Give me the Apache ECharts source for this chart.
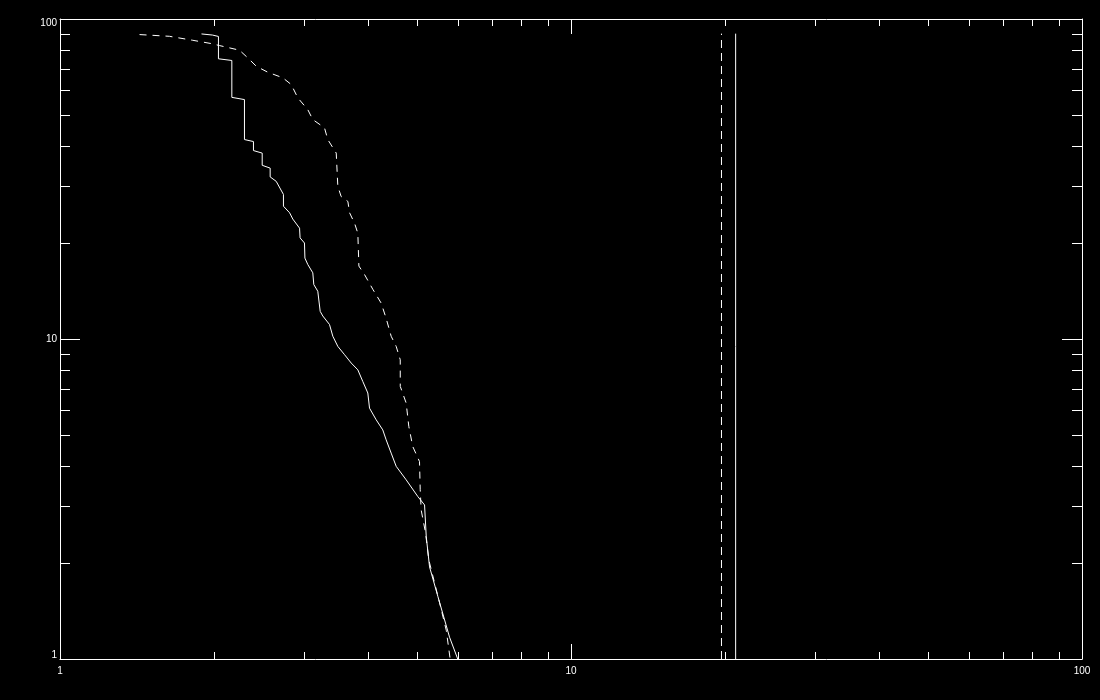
<!DOCTYPE html>
<html>
<head>
<meta charset="utf-8">
<script src="https://cdn.jsdelivr.net/npm/echarts@6/dist/echarts.min.js"></script>
<style>
html,body{margin:0;padding:0;background:#000;}
#chart{width:1100px;height:700px;}
</style>
</head>
<body>
<div id="chart"></div>
<script>
// Solid curve (x, N)
const solidX = [1.892,1.987,2.042,2.042,2.169,2.169,2.296,2.296,2.391,2.391,2.487,2.487,2.578,2.578,2.649,2.737,2.737,2.814,2.855,2.943,2.950,3.009,3.015,3.054,3.124,3.138,3.195,3.230,3.268,3.368,3.419,3.497,3.605,3.715,3.827,3.913,4.003,4.034,4.157,4.282,4.348,4.447,4.549,4.758,5.014,5.169,5.209,5.287,5.488,5.785,6.003];
const solidY = [89.8,89.1,88.2,75.1,74.2,56.9,56.0,42.0,41.4,38.8,38.1,34.9,34.2,32.1,31.1,28.3,26.0,24.8,23.7,22.2,20.7,19.95,17.9,17.1,16.1,14.8,14.1,12.2,11.8,11.1,10.2,9.48,8.93,8.41,8.01,7.37,6.78,6.08,5.59,5.20,4.84,4.40,4.00,3.63,3.22,3.03,2.41,1.94,1.57,1.17,1.0];
// Dashed curve (x, N)
const dashedX = [1.431,1.637,1.819,1.976,2.052,2.245,2.331,2.421,2.550,2.729,2.835,2.920,3.054,3.124,3.293,3.342,3.472,3.497,3.549,3.659,3.687,3.771,3.827,3.845,3.944,4.094,4.251,4.348,4.447,4.549,4.633,4.633,4.758,4.815,4.902,5.053,5.069,5.091,5.192,5.269,5.530,5.700,5.801];
const dashedY = [89.4,88.3,85.8,83.8,82.6,79.9,75.6,71.2,68.2,65.5,62.4,56.7,52.1,48.5,45.7,42.0,38.1,30.0,27.9,26.9,24.8,23.0,21.4,16.9,15.9,14.3,12.95,11.6,10.2,9.48,8.61,7.11,6.31,5.33,4.61,4.14,3.38,2.92,2.48,2.04,1.50,1.23,1.0];
// Vertical reference lines
const vlineDashedX = 19.7;
const vlineSolidX = 21.0;
const vlineY = [1, 90];
// Axis ranges and minor ticks
const axisMin = 1, axisMax = 100;
const xMinorTicks = [2,3,4,5,6,7,8,9,20,30,40,50,60,70,80,90];
const yMinorTicks = [2,3,4,5,6,7,8,9,20,30,40,50,60,70,80,90];

const white = '#ffffff';
const zip = (a, b) => a.map((v, i) => [v, b[i]]);

const chart = echarts.init(document.getElementById('chart'), null, {renderer: 'canvas'});

function axisBase(extra) {
  return Object.assign({
    type: 'log', logBase: 10, min: axisMin, max: axisMax,
    axisLine: {show: true, lineStyle: {color: white, width: 1}},
    splitLine: {show: false},
    minorTick: {show: false},
  }, extra);
}

const labelStyle = {color: white, fontFamily: 'Liberation Sans', fontSize: 10};

const option = {
  backgroundColor: '#000000',
  animation: false,
  grid: {left: 60, top: 19, width: 1022, height: 640, containLabel: false},
  xAxis: [
    axisBase({position: 'bottom', axisTick: {show: true, inside: true, length: 15, lineStyle: {color: white}},
      axisLabel: Object.assign({show: true, margin: 7}, labelStyle)}),
    axisBase({position: 'top', axisTick: {show: true, inside: true, length: 15, lineStyle: {color: white}},
      axisLabel: {show: false}})
  ],
  yAxis: [
    axisBase({position: 'left', axisTick: {show: true, inside: true, length: 20, lineStyle: {color: white}},
      axisLabel: Object.assign({
        show: true, margin: 3,
        formatter: function (v) {
          if (v >= 99) return '{t|' + v + '}';
          if (v <= 1.01) return '{b|' + v + '}';
          return '{m|' + v + '}';
        },
        rich: {
          t: {color: white, fontFamily: 'Liberation Sans', fontSize: 10, padding: [8, 0, 0, 0]},
          b: {color: white, fontFamily: 'Liberation Sans', fontSize: 10, padding: [0, 0, 7, 0]},
          m: {color: white, fontFamily: 'Liberation Sans', fontSize: 10}
        }
      }, labelStyle)}),
    axisBase({position: 'right', axisTick: {show: true, inside: true, length: 20, lineStyle: {color: white}},
      axisLabel: {show: false}})
  ],
  series: [
    {
      type: 'line', xAxisIndex: 0, yAxisIndex: 0, data: zip(solidX, solidY),
      showSymbol: false, symbol: 'none', lineStyle: {color: white, width: 1, type: 'solid'}
    },
    {
      type: 'line', xAxisIndex: 0, yAxisIndex: 0, data: zip(dashedX, dashedY),
      showSymbol: false, symbol: 'none', lineStyle: {color: white, width: 1, type: [7, 6]}
    },
    {
      type: 'line', xAxisIndex: 0, yAxisIndex: 0, data: vlineY.map(y => [vlineDashedX, y]),
      showSymbol: false, symbol: 'none', lineStyle: {color: white, width: 1, type: [8, 5]}
    },
    {
      type: 'line', xAxisIndex: 0, yAxisIndex: 0, data: vlineY.map(y => [vlineSolidX, y]),
      showSymbol: false, symbol: 'none', lineStyle: {color: white, width: 1, type: 'solid'}
    },
    {
      type: 'custom', xAxisIndex: 0, yAxisIndex: 0, silent: true,
      data: xMinorTicks.map(v => [v, axisMin]),
      renderItem: function (params, api) {
        const cs = params.coordSys;
        const p = api.coord([api.value(0), axisMin]);
        const x = Math.round(p[0]) + 0.5;
        const b = cs.y + cs.height, t = cs.y;
        const st = {stroke: white, lineWidth: 1};
        return {type: 'group', children: [
          {type: 'line', shape: {x1: x, y1: b, x2: x, y2: b - 7}, style: st},
          {type: 'line', shape: {x1: x, y1: t, x2: x, y2: t + 7}, style: st}
        ]};
      }
    },
    {
      type: 'custom', xAxisIndex: 0, yAxisIndex: 0, silent: true,
      data: yMinorTicks.map(v => [axisMin, v]),
      renderItem: function (params, api) {
        const cs = params.coordSys;
        const p = api.coord([axisMin, api.value(1)]);
        const y = Math.round(p[1]) + 0.5;
        const l = cs.x, r = cs.x + cs.width;
        const st = {stroke: white, lineWidth: 1};
        return {type: 'group', children: [
          {type: 'line', shape: {x1: l, y1: y, x2: l + 10, y2: y}, style: st},
          {type: 'line', shape: {x1: r, y1: y, x2: r - 10, y2: y}, style: st}
        ]};
      }
    }
  ]
};
chart.setOption(option);
</script>
</body>
</html>
